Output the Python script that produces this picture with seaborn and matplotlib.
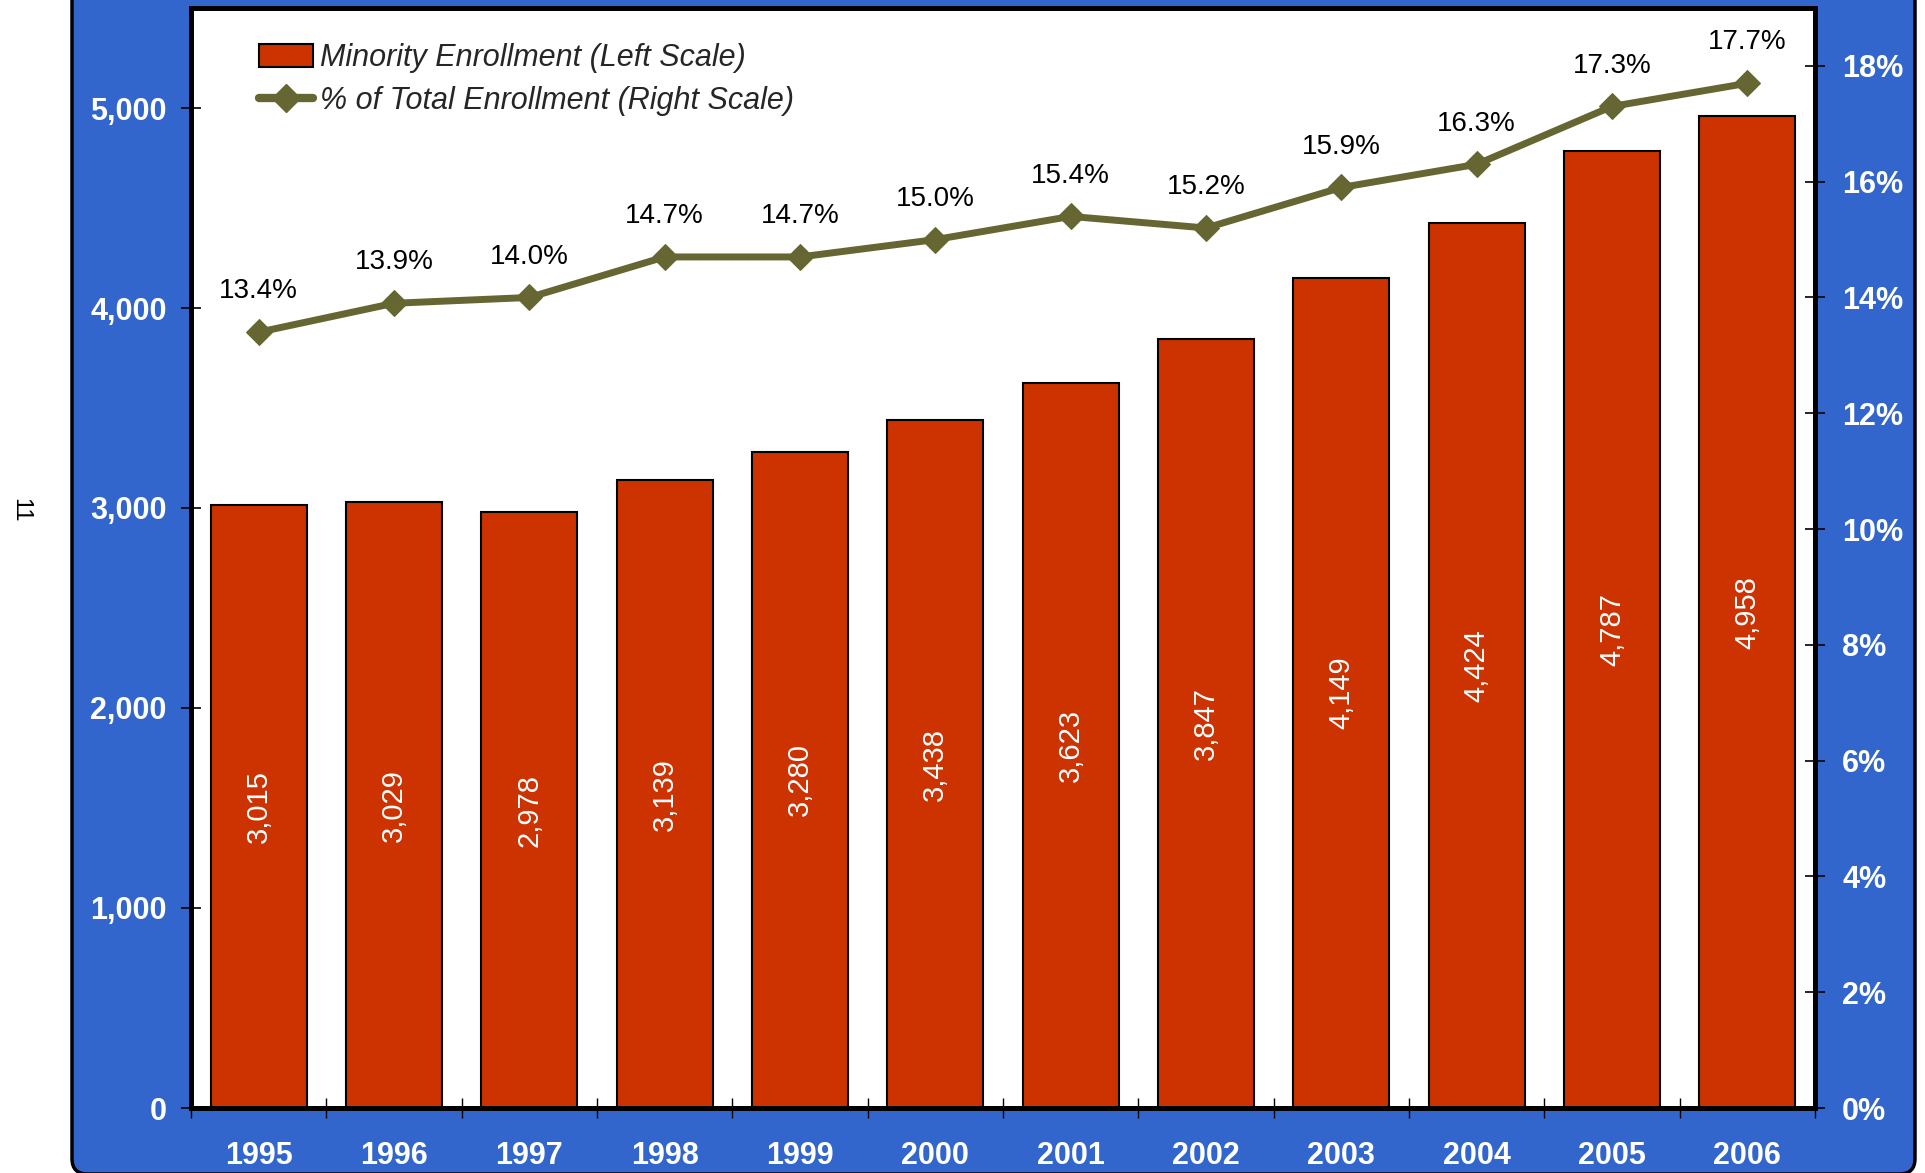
import matplotlib
matplotlib.use("Agg")
import matplotlib.pyplot as plt
import seaborn as sns
import numpy as np
import pandas as pd
from matplotlib.patches import FancyBboxPatch, Patch
from matplotlib.lines import Line2D
from matplotlib.ticker import FuncFormatter, FixedLocator

years = ["1995", "1996", "1997", "1998", "1999", "2000", "2001", "2002", "2003", "2004", "2005", "2006"]
enrollment = [3015, 3029, 2978, 3139, 3280, 3438, 3623, 3847, 4149, 4424, 4787, 4958]
pct_total = [13.4, 13.9, 14.0, 14.7, 14.7, 15.0, 15.4, 15.2, 15.9, 16.3, 17.3, 17.7]
left_ticks = [0, 1000, 2000, 3000, 4000, 5000]
right_ticks = [0, 2, 4, 6, 8, 10, 12, 14, 16, 18]

BAR = "#CC3300"
LINE = "#666633"
BLUE = "#3366CC"

sns.set_style("white")
plt.rcParams["font.family"] = ["Liberation Sans", "DejaVu Sans"]

fig = plt.figure(figsize=(19.25, 11.73), dpi=100)
fig.patch.set_facecolor("white")

W, H = 1925, 1173
panel = FancyBboxPatch((72 / W, -1 / H), (1915 - 72) / W, 1.2,
                       boxstyle="round,pad=0,rounding_size=0.008",
                       transform=fig.transFigure, facecolor=BLUE,
                       edgecolor="black", linewidth=2.5, zorder=-10,
                       mutation_aspect=W / H)
fig.patches.append(panel)

fig.text(20 / W, 1 - 510 / H, "11", rotation=270, fontsize=17,
         ha="center", va="center", color="black")

ax = fig.add_axes([191 / W, 1 - 1108 / H, (1815 - 191) / W, (1108 - 8) / H])
ax.set_zorder(1)
df = pd.DataFrame({"year": years, "enroll": enrollment, "pct": pct_total})

sns.barplot(data=df, x="year", y="enroll", ax=ax, color=BAR, width=0.71,
            edgecolor="black", linewidth=1.5, saturation=1, zorder=2)
ax.set_ylim(0, 5500)
ax.set_xlim(-0.5, len(years) - 0.5)
ax.set_xlabel("")
ax.set_ylabel("")
ax.set_facecolor("white")

for i, v in enumerate(enrollment):
    ax.text(i, v / 2, f"{v:,}", rotation=90, ha="center", va="center",
            color="white", fontsize=21, zorder=5)

ax2 = ax.twinx()
ax2.set_zorder(2)
sns.lineplot(x=np.arange(len(years)), y=pct_total, ax=ax2, color=LINE,
             linewidth=5, marker="D", markersize=13, markeredgecolor=LINE,
             zorder=4)
ax2.set_ylim(0, 19)
ax2.set_xlim(-0.5, len(years) - 0.5)
for i, p in enumerate(pct_total):
    ax2.annotate(f"{p:.1f}%", (i, p), xytext=(0, 20), textcoords="offset points",
                 ha="center", va="bottom", fontsize=20, color="black")

ax.yaxis.set_major_locator(FixedLocator(left_ticks))
ax.yaxis.set_major_formatter(FuncFormatter(lambda v, _: f"{int(v):,}"))
ax2.yaxis.set_major_locator(FixedLocator(right_ticks))
ax2.yaxis.set_major_formatter(FuncFormatter(lambda v, _: f"{int(v)}%"))

ax.set_xticks(range(len(years)))
ax.set_xticklabels(years)
ax.set_xticks(np.arange(-0.5, len(years)), minor=True)
ax.tick_params(axis="x", which="major", length=0, pad=24, labelsize=22,
               labelcolor="white")
ax.tick_params(axis="x", which="minor", length=14, width=1, direction="inout",
               color="black", bottom=True)
ax.tick_params(axis="y", which="major", length=15, width=1.2, direction="inout",
               color="black", left=True, pad=10, labelsize=22, labelcolor="white")
ax2.tick_params(axis="y", which="major", length=15, width=1.2, direction="inout",
                color="black", right=True, pad=12, labelsize=22, labelcolor="white")
for lab in ax.get_xticklabels() + ax.get_yticklabels() + ax2.get_yticklabels():
    lab.set_fontweight("bold")

for a in (ax, ax2):
    for s in a.spines.values():
        s.set_visible(True)
        s.set_linewidth(3.5)
        s.set_color("black")

handles = [Patch(facecolor=BAR, edgecolor="black", linewidth=1.5),
           Line2D([0], [0], color=LINE, linewidth=6, marker="D", markersize=14,
                  solid_capstyle="round")]
labels = ["Minority Enrollment (Left Scale)", "% of Total Enrollment (Right Scale)"]
leg = ax2.legend(handles, labels, loc="upper left", bbox_to_anchor=(0.025, 0.993),
                 frameon=False, handlelength=1.75, handleheight=0.75,
                 labelspacing=0.42, handletextpad=0.25,
                 prop={"style": "italic", "size": 22})

fig.savefig("out.png", dpi=100, facecolor="white")
